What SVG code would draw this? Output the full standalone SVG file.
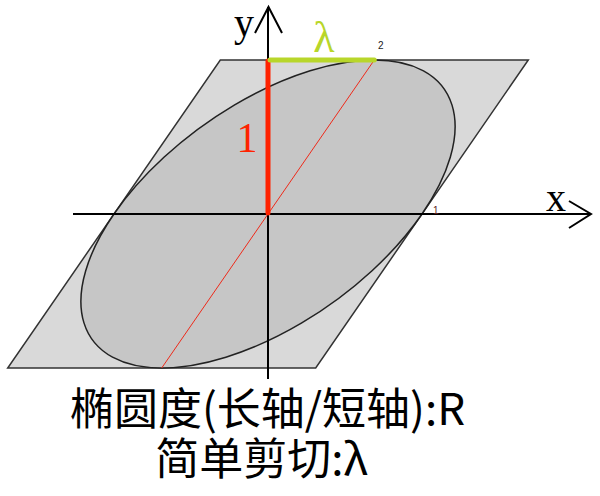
<svg xmlns="http://www.w3.org/2000/svg" width="600" height="496" viewBox="0 0 600 496">
<style>
.ax{stroke:#000;stroke-width:2;fill:none}
.serif{font-family:"Liberation Serif","DejaVu Serif",serif}
.cjk{font-family:"Noto Sans CJK SC","Noto Sans",sans-serif;font-size:44px;fill:#000;text-anchor:middle}
.small{font-family:"Liberation Sans",Arial,sans-serif;font-size:10px}
</style>
<rect width="600" height="496" fill="#fff"/>
<g id="parallelogram">
<polygon points="220.3,60 528.3,60 315.7,368 7.7,368" fill="#d9d9d9" stroke="#333" stroke-width="1.5"/>
</g>
<g id="ellipse">
<circle cx="0" cy="0" r="154" transform="matrix(1,0,-0.69,1,268,214)" fill="#c6c6c6" stroke="#222" stroke-width="1.5" vector-effect="non-scaling-stroke"/>
</g>
<g id="diagonal">
<line x1="374.3" y1="60" x2="161.7" y2="368" stroke="#ee2a1a" stroke-width="1"/>
</g>
<g id="connectors">
<line class="ax" x1="73" y1="214" x2="591" y2="214"/>
<polyline class="ax" points="569,201 591,214 569,228"/>
<line class="ax" x1="268" y1="7" x2="268" y2="379"/>
<polyline class="ax" points="255,33 268.5,7 282,33"/>
</g>
<g id="unit-y">
<line x1="268" y1="61" x2="268" y2="213" stroke="#ff2200" stroke-width="5" stroke-linecap="round"/>
<text class="serif" x="247" y="151.5" font-size="42" fill="#ff2200" text-anchor="middle">1</text>
</g>
<g id="shear-lambda">
<line x1="270" y1="60" x2="374.3" y2="60" stroke="#b8d62a" stroke-width="5" stroke-linecap="round"/>
<text class="serif" x="324" y="52" font-size="44" fill="#b8d62a" text-anchor="middle">λ</text>
</g>
<g id="labels">
<text class="serif" x="244" y="36" font-size="40" fill="#000" text-anchor="middle">y</text>
<text class="serif" x="556" y="211" font-size="40" fill="#000" text-anchor="middle">x</text>
<text class="small" x="378" y="49" fill="#222">2</text>
<text class="small" x="433" y="214" fill="#602020">1</text>
</g>
<g id="caption">
<text class="cjk" x="267.5" y="425">椭圆度(长轴/短轴):R</text>
<text class="cjk" x="261.5" y="475">简单剪切:λ</text>
</g>
</svg>
